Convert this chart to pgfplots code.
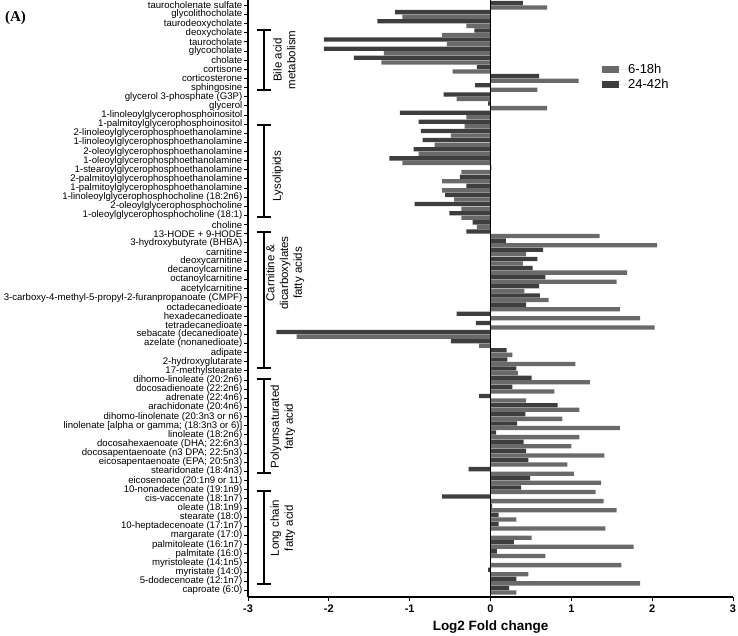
\documentclass[border=0pt]{standalone}
\usepackage{pgfplots}
\pgfplotsset{compat=1.18}
\usepackage{pgfplotstable}
\usepackage{fontspec}
\setmainfont{Liberation Sans}
\newfontfamily\serifA{Liberation Serif}
\definecolor{cearly}{RGB}{106,106,106}
\definecolor{clate}{RGB}{62,62,62}
\pgfplotstableread{
idx late early
1 0.40 0.70
2 -1.18 -1.09
3 -1.40 -0.30
4 -0.20 -0.60
5 -2.06 -0.54
6 -2.06 -1.32
7 -1.69 -1.35
8 -0.17 -0.47
9 0.60 1.09
10 -0.19 0.58
11 -0.58 -0.42
12 -0.03 0.70
13 -1.12 -0.30
14 -0.89 -0.32
15 -0.86 -0.49
16 -0.84 -0.69
17 -0.95 -0.89
18 -1.25 -1.09
19 0.01 -0.36
20 -0.38 -0.60
21 -0.30 -0.60
22 -0.56 -0.45
23 -0.94 -0.36
24 -0.51 -0.36
25 -0.22 -0.17
26 -0.30 1.35
27 0.19 2.06
28 0.65 0.44
29 0.58 0.40
30 0.52 1.69
31 0.68 1.56
32 0.60 0.42
33 0.61 0.72
34 0.44 1.60
35 -0.42 1.85
36 -0.18 2.03
37 -2.65 -2.40
38 -0.49 -0.14
39 0.20 0.27
40 0.21 1.05
41 0.32 0.34
42 0.51 1.23
43 0.27 0.79
44 -0.14 0.44
45 0.83 1.10
46 0.43 0.89
47 0.33 1.60
48 0.07 1.10
49 0.41 1.00
50 0.44 1.41
51 0.47 0.95
52 -0.27 1.03
53 0.49 1.37
54 0.38 1.30
55 -0.60 1.40
56 0.02 1.56
57 0.10 0.32
58 0.10 1.42
59 0.00 0.51
60 0.29 1.77
61 0.08 0.68
62 0.00 1.62
63 -0.03 0.47
64 0.32 1.85
65 0.23 0.32
}\datatab
\begin{document}
\begin{tikzpicture}[grp/.style={font=\fontsize{11.5}{13.8}\selectfont, align=center, rotate=90, inner sep=0pt},
  brk/.style={line width=1.8pt, black}]
\begin{axis}[
  scale only axis, width=485pt, height=597pt,
  xmin=-3, xmax=3, ymin=0.26, ymax=65.58,
  axis x line*=bottom, axis y line*=left,
  axis line style={line width=1.3pt, black, -},
  tick align=outside, major tick length=4pt,
  tick style={line width=0.9pt, black},
  xtick={-3,-2,-1,0,1,2,3}, xticklabels={-3,-2,-1,0,1,2,3},
  xticklabel style={font=\fontsize{11}{13}\selectfont\bfseries},
  ytick={1,...,65},
  yticklabels={{caproate (6:0)},{5-dodecenoate (12:1n7)},{myristate (14:0)},{myristoleate (14:1n5)},{palmitate (16:0)},{palmitoleate (16:1n7)},{margarate (17:0)},{10-heptadecenoate (17:1n7)},{stearate (18:0)},{oleate (18:1n9)},{cis-vaccenate (18:1n7)},{10-nonadecenoate (19:1n9)},{eicosenoate (20:1n9 or 11)},{stearidonate (18:4n3)},{eicosapentaenoate (EPA; 20:5n3)},{docosapentaenoate (n3 DPA; 22:5n3)},{docosahexaenoate (DHA; 22:6n3)},{linoleate (18:2n6)},{linolenate [alpha or gamma; (18:3n3 or 6)]},{dihomo-linolenate (20:3n3 or n6)},{arachidonate (20:4n6)},{adrenate (22:4n6)},{docosadienoate (22:2n6)},{dihomo-linoleate (20:2n6)},{17-methylstearate},{2-hydroxyglutarate},{adipate},{azelate (nonanedioate)},{sebacate (decanedioate)},{tetradecanedioate},{hexadecanedioate},{octadecanedioate},{3-carboxy-4-methyl-5-propyl-2-furanpropanoate (CMPF)},{acetylcarnitine},{octanoylcarnitine},{decanoylcarnitine},{deoxycarnitine},{carnitine},{3-hydroxybutyrate (BHBA)},{13-HODE + 9-HODE},{choline},{1-oleoylglycerophosphocholine (18:1)},{2-oleoylglycerophosphocholine},{1-linoleoylglycerophosphocholine (18:2n6)},{1-palmitoylglycerophosphoethanolamine},{2-palmitoylglycerophosphoethanolamine},{1-stearoylglycerophosphoethanolamine},{1-oleoylglycerophosphoethanolamine},{2-oleoylglycerophosphoethanolamine},{1-linoleoylglycerophosphoethanolamine},{2-linoleoylglycerophosphoethanolamine},{1-palmitoylglycerophosphoinositol},{1-linoleoylglycerophosphoinositol},{glycerol},{glycerol 3-phosphate (G3P)},{sphingosine},{corticosterone},{cortisone},{cholate},{glycocholate},{taurocholate},{deoxycholate},{taurodeoxycholate},{glycolithocholate},{taurocholenate sulfate}},
  yticklabel style={font=\fontsize{9.6}{9.6}\selectfont, inner sep=1.5pt},
  xlabel={Log2 Fold change},
  xlabel style={font=\fontsize{13.5}{15}\selectfont\bfseries, inner sep=1pt, yshift=-4pt},
  legend style={at={(axis description cs:0.7299,0.8945)}, anchor=north west, draw=none, fill=none,
    font=\fontsize{13}{14}\selectfont, row sep=1.5pt, inner sep=0pt, nodes={inner sep=1pt}},
  legend cell align=left,
  clip=false,
]
\addplot[xbar, fill=cearly, draw=none, bar width=0.47, bar shift=-0.25,
  legend image code/.code={\fill[cearly] (0pt,-3.5pt) rectangle (17pt,3.5pt); \path (0pt,0pt) -- (25pt,0pt);}]
  table[x=early, y expr=66-\thisrow{idx}] {\datatab};
\addlegendentry{6-18h}
\addplot[xbar, fill=clate, draw=none, bar width=0.47, bar shift=0.25,
  legend image code/.code={\fill[clate] (0pt,-3.5pt) rectangle (17pt,3.5pt); \path (0pt,0pt) -- (25pt,0pt);}]
  table[x=late, y expr=66-\thisrow{idx}] {\datatab};
\addlegendentry{24-42h}
\draw[line width=1.3pt] (axis cs:0,0.26) -- (axis cs:0,65.58);
% brackets
\draw[brk] (axis cs:-2.8025,62.30) -- (axis cs:-2.8025,55.73);
\draw[brk] (axis cs:-2.889,62.30) -- (axis cs:-2.716,62.30);
\draw[brk] (axis cs:-2.889,55.73) -- (axis cs:-2.716,55.73);
\draw[brk] (axis cs:-2.8025,51.87) -- (axis cs:-2.8025,41.8);
\draw[brk] (axis cs:-2.889,51.87) -- (axis cs:-2.716,51.87);
\draw[brk] (axis cs:-2.889,41.8) -- (axis cs:-2.716,41.8);
\draw[brk] (axis cs:-2.8025,40.23) -- (axis cs:-2.8025,25.32);
\draw[brk] (axis cs:-2.889,40.23) -- (axis cs:-2.716,40.23);
\draw[brk] (axis cs:-2.889,25.32) -- (axis cs:-2.716,25.32);
\draw[brk] (axis cs:-2.8025,24.11) -- (axis cs:-2.8025,13.86);
\draw[brk] (axis cs:-2.889,24.11) -- (axis cs:-2.716,24.11);
\draw[brk] (axis cs:-2.889,13.86) -- (axis cs:-2.716,13.86);
\draw[brk] (axis cs:-2.8025,11.9) -- (axis cs:-2.8025,1.7);
\draw[brk] (axis cs:-2.889,11.9) -- (axis cs:-2.716,11.9);
\draw[brk] (axis cs:-2.889,1.7) -- (axis cs:-2.716,1.7);
\node[grp] at (axis cs:-2.55,59.02) {Bile acid\\metabolism};
\node[grp] at (axis cs:-2.63,46.32) {Lysolipids};
\node[grp] at (axis cs:-2.54,35.71) {Carnitine \&\\dicarboxylates\\fatty acids};
\node[grp] at (axis cs:-2.568,18.9) {Polyunsaturated\\fatty acid};
\node[grp] at (axis cs:-2.568,7.8) {Long chain\\fatty acid};
\end{axis}
\node[font=\fontsize{15}{17}\selectfont\serifA\bfseries] at ([xshift=-232.5pt,yshift=-17.5pt]current axis.north west) {(A)};
\pgfresetboundingbox
\path ([xshift=-248pt]current axis.north west) rectangle ([xshift=5pt,yshift=-38pt]current axis.south east);
\end{tikzpicture}
\end{document}
